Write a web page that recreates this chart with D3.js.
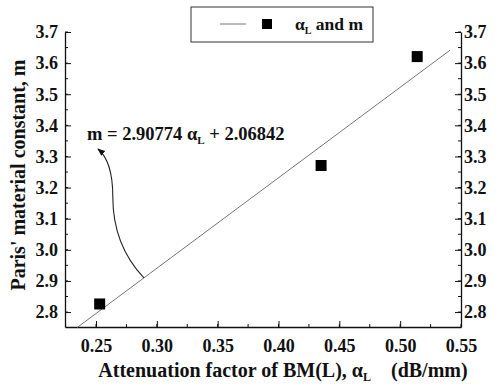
<!DOCTYPE html>
<html>
<head>
<meta charset="utf-8">
<script src="https://cdn.jsdelivr.net/npm/d3@7"></script>
<style>
  body { margin: 0; background: #fff; }
  svg { display: block; }
  svg text { font-family: "Liberation Serif", "Times New Roman", Times, "DejaVu Serif", serif !important; font-weight: bold; }
</style>
</head>
<body>
<script>
// measured points (attenuation factor alpha_L, Paris' constant m)
const alphaL = [0.253, 0.435, 0.514];
const mVals = [2.826, 3.271, 3.621];
// fitted line m = slope * alpha + intercept
const slope = 2.90774;
const intercept = 2.06842;
const fitRange = [0.2344, 0.541];
const xTicks = [0.25, 0.30, 0.35, 0.40, 0.45, 0.50, 0.55];
const yTicks = [2.8, 2.9, 3.0, 3.1, 3.2, 3.3, 3.4, 3.5, 3.6, 3.7];

const width = 499, height = 386;
const margin = { top: 32, right: 38, bottom: 59, left: 65 };

const x = d3.scaleLinear()
  .domain([0.2245, 0.55])
  .range([margin.left, width - margin.right]);
const y = d3.scaleLinear()
  .domain([2.752, 3.7])
  .range([height - margin.bottom, margin.top]);

const svg = d3.select("body").append("svg")
  .attr("width", width)
  .attr("height", height);

// arrowhead
svg.append("defs").append("marker")
  .attr("id", "arrow")
  .attr("viewBox", "0 0 10 10")
  .attr("refX", 9).attr("refY", 5)
  .attr("markerWidth", 7).attr("markerHeight", 7)
  .attr("orient", "auto")
  .append("path")
  .attr("d", "M0,1 L10,5 L0,9 Z")
  .attr("fill", "#111");

const x0 = x.range()[0], x1 = x.range()[1];
const y0 = y.range()[0];

// minor ticks
const xMinor = d3.range(0.225, 0.551, 0.025).filter(v => v >= 0.2245);
const yMinor = d3.range(2.75, 3.701, 0.05).filter(v => v >= 2.752);

// bottom axis, ticks pointing inward
const gx = svg.append("g")
  .attr("transform", `translate(0,${y0})`)
  .call(d3.axisBottom(x).tickValues(xTicks).tickSize(-6).tickSizeOuter(0)
    .tickPadding(12).tickFormat(d3.format(".2f")));
gx.append("g").selectAll("line")
  .data(xMinor)
  .enter().append("line")
  .attr("x1", d => x(d)).attr("x2", d => x(d))
  .attr("y1", 0).attr("y2", -3)
  .attr("stroke", "#111");

// left axis
const gy = svg.append("g")
  .attr("transform", `translate(${x0},0)`)
  .call(d3.axisLeft(y).tickValues(yTicks).tickSize(-6).tickSizeOuter(0)
    .tickPadding(7).tickFormat(d3.format(".1f")));
gy.append("g").selectAll("line")
  .data(yMinor)
  .enter().append("line")
  .attr("y1", d => y(d)).attr("y2", d => y(d))
  .attr("x1", 0).attr("x2", 3)
  .attr("stroke", "#111");

// right axis
const gr = svg.append("g")
  .attr("transform", `translate(${x1},0)`)
  .call(d3.axisRight(y).tickValues(yTicks).tickSize(-6).tickSizeOuter(0)
    .tickPadding(3).tickFormat(d3.format(".1f")));
gr.append("g").selectAll("line")
  .data(yMinor)
  .enter().append("line")
  .attr("y1", d => y(d)).attr("y2", d => y(d))
  .attr("x1", 0).attr("x2", -3)
  .attr("stroke", "#111");

svg.selectAll(".tick line").attr("stroke", "#111");
svg.selectAll(".domain").attr("stroke", "#111").attr("stroke-width", 1.3);
svg.selectAll(".tick text")
  .attr("font-size", 18)
  .attr("fill", "#111");

// fit line
svg.append("line")
  .attr("x1", x(fitRange[0])).attr("y1", y(slope * fitRange[0] + intercept))
  .attr("x2", x(fitRange[1])).attr("y2", y(slope * fitRange[1] + intercept))
  .attr("stroke", "#666")
  .attr("stroke-width", 0.9);

// data squares
const sq = 11;
svg.selectAll("rect.pt")
  .data(alphaL)
  .enter().append("rect")
  .attr("class", "pt")
  .attr("x", d => x(d) - sq / 2)
  .attr("y", (d, i) => y(mVals[i]) - sq / 2)
  .attr("width", sq).attr("height", sq)
  .attr("fill", "#000");

// annotation arrow (data coordinates)
const aStart = 0.2894;
const arrowPts = [
  [aStart, slope * aStart + intercept],
  [0.270, 2.99], [0.2638, 3.08], [0.2638, 3.17],
  [0.2638, 3.25], [0.259, 3.30], [0.2516, 3.324]
];
const ap = arrowPts.map(p => [x(p[0]), y(p[1])]);
svg.append("path")
  .attr("d", `M${ap[0]} C${ap[1]} ${ap[2]} ${ap[3]} C${ap[4]} ${ap[5]} ${ap[6]}`)
  .attr("fill", "none")
  .attr("stroke", "#222")
  .attr("stroke-width", 1.1)
  .attr("marker-end", "url(#arrow)");

// equation text
const eq = svg.append("text")
  .attr("x", 87).attr("y", 140)
  .attr("font-size", 18.5)
  .attr("fill", "#111");
eq.append("tspan").text("m = 2.90774 \u03b1");
eq.append("tspan").attr("font-size", 11).attr("dy", 4).text("L");
eq.append("tspan").attr("dy", -4).text(" + 2.06842");

// legend
const lg = svg.append("g");
lg.append("rect")
  .attr("x", 191).attr("y", 7)
  .attr("width", 182).attr("height", 35)
  .attr("fill", "#fff")
  .attr("stroke", "#333")
  .attr("stroke-width", 1);
lg.append("line")
  .attr("x1", 220).attr("x2", 246)
  .attr("y1", 24).attr("y2", 24)
  .attr("stroke", "#666").attr("stroke-width", 0.9);
lg.append("rect")
  .attr("x", 262).attr("y", 19)
  .attr("width", 10).attr("height", 10)
  .attr("fill", "#000");
const lt = lg.append("text")
  .attr("x", 295).attr("y", 30)
  .attr("font-size", 17.5)
  .attr("fill", "#111");
lt.append("tspan").text("\u03b1");
lt.append("tspan").attr("font-size", 10).attr("dy", 4).text("L");
lt.append("tspan").attr("dy", -4).text(" and m");

// axis titles
const xt = svg.append("text")
  .attr("x", 283).attr("y", 377)
  .attr("text-anchor", "middle")
  .attr("font-size", 20)
  .attr("fill", "#111");
xt.append("tspan").text("Attenuation factor of BM(L), \u03b1");
xt.append("tspan").attr("font-size", 12).attr("dy", 4).text("L");
xt.append("tspan").attr("dy", -4).text("\u00a0\u00a0\u00a0\u00a0(dB/mm)");

svg.append("text")
  .attr("transform", "translate(25,175) rotate(-90)")
  .attr("text-anchor", "middle")
  .attr("font-size", 20)
  .attr("fill", "#111")
  .text("Paris' material constant, m");
</script>
</body>
</html>
